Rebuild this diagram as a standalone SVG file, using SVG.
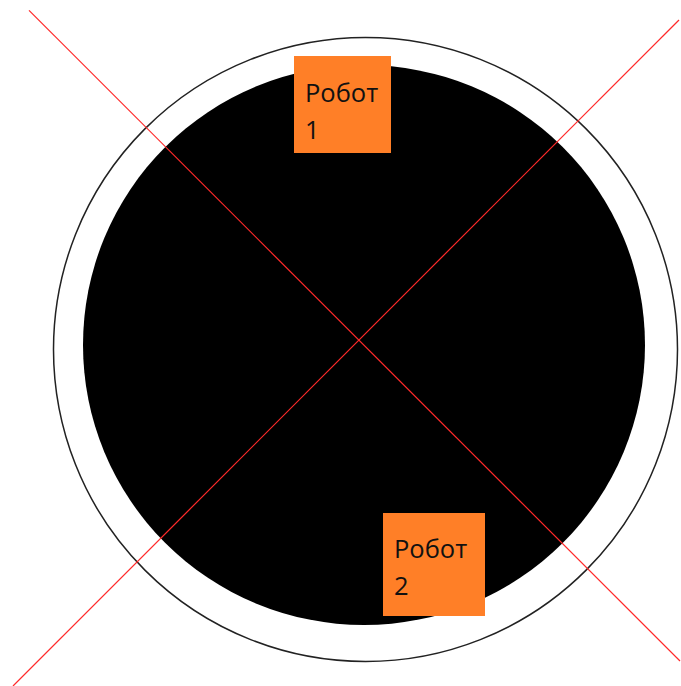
<svg xmlns="http://www.w3.org/2000/svg" width="681" height="686" viewBox="0 0 681 686">
<style>
.robot rect{fill:#FF7F27}
.robot text{font-family:"Open Sans","Noto Sans",sans-serif;font-size:25.5px;fill:#111}
.axis{stroke:#ff2a2a;stroke-width:1.2}
</style>
<rect width="681" height="686" fill="#fff"/>
<g id="arena">
<circle cx="365.5" cy="349.5" r="312" fill="none" stroke="#222" stroke-width="1.5"/>
<ellipse cx="364" cy="345" rx="281" ry="280" fill="#000"/>
</g>
<g id="connectors">
<line class="axis" x1="29" y1="10.4" x2="680" y2="661"/>
<line class="axis" x1="679" y1="20" x2="13" y2="686"/>
</g>
<g id="robot1" class="robot">
<rect x="294" y="56" width="97" height="97"/>
<text x="305" y="102">Робот</text>
<text x="305" y="139">1</text>
</g>
<g id="robot2" class="robot">
<rect x="383" y="513" width="102" height="103"/>
<text x="394" y="558">Робот</text>
<text x="394" y="595">2</text>
</g>
</svg>
